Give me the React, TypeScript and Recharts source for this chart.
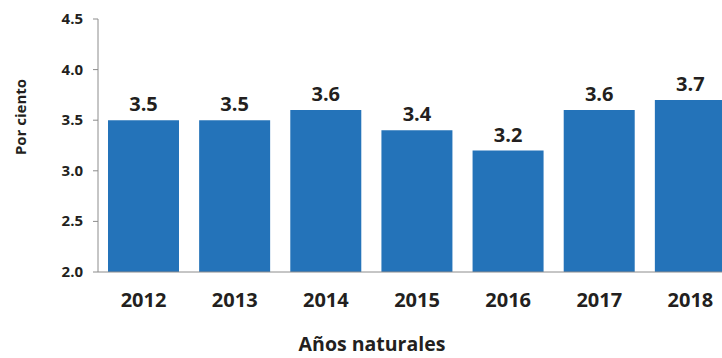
import React from "react";
import { BarChart, Bar, XAxis, YAxis, LabelList, Label } from "recharts";

const years = ["2012", "2013", "2014", "2015", "2016", "2017", "2018"];
const values = [3.5, 3.5, 3.6, 3.4, 3.2, 3.6, 3.7];
const yTicks = [2.0, 2.5, 3.0, 3.5, 4.0, 4.5];

const data = years.map((y, i) => ({ year: y, value: values[i] }));

const FONT = "'Open Sans', sans-serif";
const TXT = "#231f20";

const YTick = (props: any) => {
  const { x, y, payload } = props;
  return (
    <text x={x} y={y} dy={5} textAnchor="end" fontFamily={FONT} fontWeight={700} fontSize={15} fill={TXT}>
      {Number(payload.value).toFixed(1)}
    </text>
  );
};

export default function App() {
  return (
    <div style={{ position: "absolute", left: 0, top: 0, width: 722, height: 358, overflow: "hidden", background: "#fff" }}>
      <BarChart
        width={760}
        height={358}
        data={data}
        margin={{ top: 19, right: 24, left: 0, bottom: 46 }}
        barCategoryGap={10}
      >
        <XAxis
          dataKey="year"
          height={40}
          tickLine={false}
          axisLine={{ stroke: "#8c8c8c" }}
          tick={{ fontFamily: FONT, fontWeight: 700, fontSize: 20, fill: TXT }}
          tickMargin={15}
        >
          <Label
            content={() => (
              <text x={372} y={351} textAnchor="middle" fontFamily={FONT} fontWeight={700} fontSize={19.5} fill={TXT}>
                Años naturales
              </text>
            )}
          />
        </XAxis>
        <YAxis
          width={98}
          domain={[2, 4.5]}
          ticks={yTicks}
          interval={0}
          axisLine={{ stroke: "#8c8c8c" }}
          tickLine={{ stroke: "#8c8c8c" }}
          tickSize={5}
          tickMargin={10}
          tick={<YTick />}
        >
          <Label
            content={() => (
              <text
                x={26}
                y={117}
                transform="rotate(-90 26 117)"
                textAnchor="middle"
                fontFamily={FONT}
                fontWeight={700}
                fontSize={15}
                fill={TXT}
              >
                Por ciento
              </text>
            )}
          />
        </YAxis>
        <Bar dataKey="value" fill="#2473b9" isAnimationActive={false}>
          <LabelList
            dataKey="value"
            position="top"
            offset={9}
            formatter={(v: number) => v.toFixed(1)}
            style={{ fontFamily: FONT, fontWeight: 700, fontSize: 20, fill: TXT }}
          />
        </Bar>
      </BarChart>
    </div>
  );
}
